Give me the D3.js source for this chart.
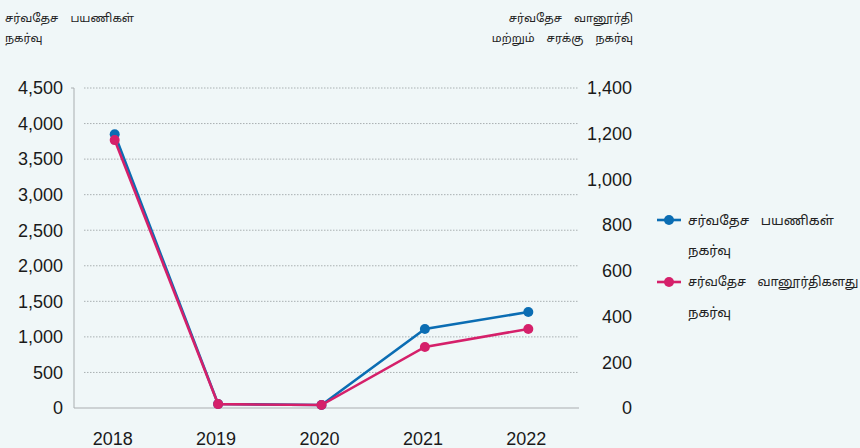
<!DOCTYPE html>
<html>
<head>
<meta charset="utf-8">
<script src="https://cdn.jsdelivr.net/npm/d3@7"></script>
<style>
  html, body { margin: 0; padding: 0; background: #f0f7f8; }
  svg { display: block; }
  .num { font-family: "Liberation Sans", Arial, Helvetica, sans-serif; font-size: 18px; fill: #1a1a1a; }
  .ta { font-family: "Noto Sans Tamil", "Lohit Tamil", "Noto Sans", sans-serif; fill: #222; }
</style>
</head>
<body>
<svg id="chart" width="860" height="448"></svg>
<script>
// Years on the horizontal axis
const years = ["2018", "2019", "2020", "2021", "2022"];
// International passenger movement (left axis)
const passengers = [3850, 56, 42, 1110, 1350];
// International aircraft movement (right axis)
const aircraft = [1172, 17, 13, 267, 346];
// Tick values for both axes
const leftTicks = [0, 500, 1000, 1500, 2000, 2500, 3000, 3500, 4000, 4500];
const rightTicks = [0, 200, 400, 600, 800, 1000, 1200, 1400];

const leftTitle = ["சர்வதேச பயணிகள்", "நகர்வு"];
const rightTitle = ["சர்வதேச வானூர்தி", "மற்றும் சரக்கு நகர்வு"];
const legendItems = [
  { lines: ["சர்வதேச பயணிகள்", "நகர்வு"], color: "#0b6db3" },
  { lines: ["சர்வதேச வானூர்திகளது", "நகர்வு"], color: "#d5206a" }
];

const svg = d3.select("#chart");
const plotTop = 88, plotBottom = 408, plotLeft = 74, plotRight = 579;

const x = d3.scalePoint().domain(years).range([63, 580]).padding(0.5);
const yL = d3.scaleLinear().domain([0, 4500]).range([plotBottom, plotTop]);
const yR = d3.scaleLinear().domain([0, 1400]).range([plotBottom, plotTop]);

// Dotted gridlines from the left axis
svg.append("g")
  .selectAll("line")
  .data(leftTicks.filter(d => d > 0))
  .join("line")
  .attr("x1", plotLeft + 10).attr("x2", plotRight)
  .attr("y1", d => yL(d)).attr("y2", d => yL(d))
  .attr("stroke", "#a9b0b2").attr("stroke-width", 1)
  .attr("stroke-dasharray", "1.5,1.5");

// Baseline and left axis line
svg.append("line").attr("x1", plotLeft).attr("x2", plotRight)
  .attr("y1", yL(0)).attr("y2", yL(0))
  .attr("stroke", "#a9aeb0").attr("stroke-width", 1.2);
svg.append("line").attr("x1", plotLeft).attr("x2", plotLeft)
  .attr("y1", yL(4500)).attr("y2", yL(0))
  .attr("stroke", "#a9aeb0").attr("stroke-width", 1);
svg.append("line").attr("x1", plotLeft - 3).attr("x2", plotLeft)
  .attr("y1", yL(4500)).attr("y2", yL(4500))
  .attr("stroke", "#a9aeb0").attr("stroke-width", 1);

const fmt = d3.format(",");

// Left axis labels
svg.append("g").selectAll("text")
  .data(leftTicks).join("text")
  .attr("class", "num")
  .attr("x", 63).attr("y", d => yL(d))
  .attr("dy", "0.35em").attr("text-anchor", "end")
  .text(d => fmt(d));

// Right axis labels
svg.append("g").selectAll("text")
  .data(rightTicks).join("text")
  .attr("class", "num")
  .attr("x", 632).attr("y", d => yR(d))
  .attr("dy", "0.35em").attr("text-anchor", "end")
  .text(d => fmt(d));

// Year labels
svg.append("g").selectAll("text")
  .data(years).join("text")
  .attr("class", "num")
  .attr("x", d => x(d) - 2).attr("y", 445)
  .attr("text-anchor", "middle")
  .text(d => d);

// Axis titles
svg.append("g").selectAll("text")
  .data(leftTitle).join("text")
  .attr("class", "ta").attr("font-size", 11.5)
  .attr("word-spacing", 9)
  .attr("x", 5).attr("y", (d, i) => 18 + i * 20).attr("dy", "0.35em")
  .text(d => d);
svg.append("g").selectAll("text")
  .data(rightTitle).join("text")
  .attr("class", "ta").attr("font-size", 11.5)
  .attr("word-spacing", 9)
  .attr("x", 633).attr("y", (d, i) => 18 + i * 20).attr("dy", "0.35em")
  .attr("text-anchor", "end")
  .text(d => d);

// Series lines and markers
const series = [
  { values: passengers, scale: yL, color: legendItems[0].color },
  { values: aircraft, scale: yR, color: legendItems[1].color }
];
series.forEach(s => {
  const pts = years.map((yr, i) => [x(yr), s.scale(s.values[i])]);
  svg.append("path")
    .attr("d", d3.line()(pts))
    .attr("fill", "none").attr("stroke", s.color).attr("stroke-width", 2.6);
  svg.append("g").selectAll("circle")
    .data(pts).join("circle")
    .attr("cx", d => d[0]).attr("cy", d => d[1]).attr("r", 5)
    .attr("fill", s.color);
});

// Legend
const lg = svg.append("g");
const legendX = 688, legendMaxW = 858 - legendX;
legendItems.forEach((item, i) => {
  const cy = 220 + i * 62;
  lg.append("line").attr("x1", 657).attr("x2", 681)
    .attr("y1", cy).attr("y2", cy)
    .attr("stroke", item.color).attr("stroke-width", 2.6);
  lg.append("circle").attr("cx", 669).attr("cy", cy).attr("r", 5).attr("fill", item.color);
  item.lines.forEach((t, j) => {
    const txt = lg.append("text").attr("class", "ta").attr("font-size", 13.2)
      .attr("word-spacing", 8)
      .attr("x", legendX).attr("y", cy + j * 30).attr("dy", "0.35em")
      .text(t);
    // shrink a long line so it stays inside the page
    const w = txt.node().getComputedTextLength();
    if (w > legendMaxW) txt.attr("font-size", 13.2 * legendMaxW / w);
  });
});
</script>
</body>
</html>
